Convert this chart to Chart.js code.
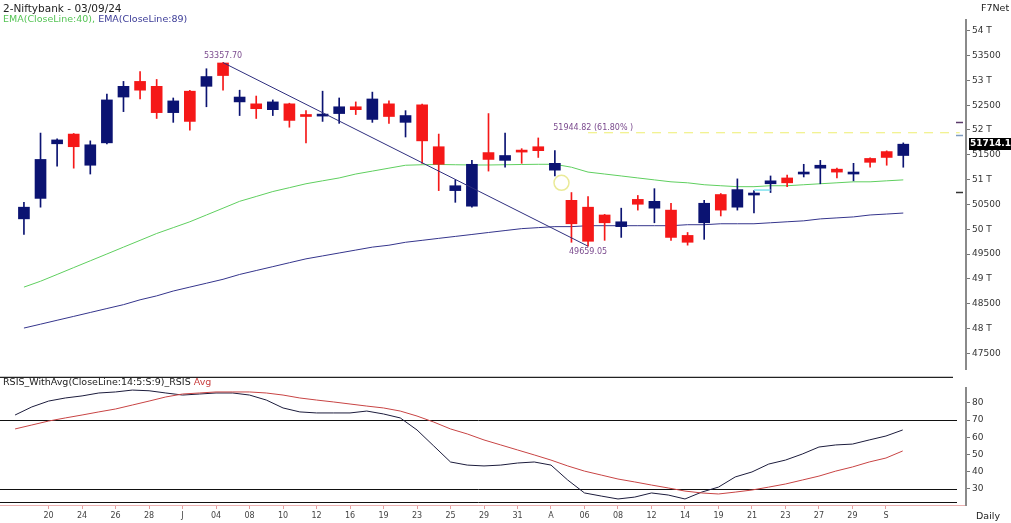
<!DOCTYPE html>
<html>
<head>
<meta charset="utf-8">
<script src="https://cdn.jsdelivr.net/npm/chart.js@4.4.1/dist/chart.umd.min.js"></script>
<style>
  html, body { margin: 0; padding: 0; background: #fff; }
  #wrap { position: relative; width: 1011px; height: 523px; overflow: hidden; font-family: "DejaVu Sans", sans-serif; }
  #main { position: absolute; left: 0; top: 0; }
  #rsi { position: absolute; left: 0; top: 378px; }
  .txt { position: absolute; white-space: nowrap; font-size: 9.5px; line-height: 12px; color: #222; }
</style>
</head>
<body>
<div id="wrap">
  <canvas id="main" width="1011" height="378"></canvas>
  <canvas id="rsi" width="1011" height="145"></canvas>
  <div class="txt" style="left:3px;top:2px;font-size:10.5px;">2-Niftybank - 03/09/24</div>
  <div class="txt" style="left:3px;top:13px;"><span style="color:#55c455">EMA(CloseLine:40),</span> <span style="color:#3a3a96">EMA(CloseLine:89)</span></div>
  <div class="txt" style="left:981px;top:2px;">F7Net</div>
  <div class="txt" style="left:3px;top:376px;">RSIS_WithAvg(CloseLine:14:5:S:9)_RSIS <span style="color:#c84040">Avg</span></div>
  <div class="txt" style="left:976px;top:510px;">Daily</div>
</div>
<script>
// daily candles, left to right
const dates = ["", "", "20", "", "24", "", "26", "", "28", "", "J", "", "04", "", "08", "", "10", "", "12", "", "16", "", "19", "", "23", "", "25", "", "29", "", "31", "", "A", "", "06", "", "08", "", "12", "", "14", "", "19", "", "21", "", "23", "", "27", "", "29", "", "S", ""];

const opens = [50210, 50622, 51722, 51918, 51290, 51741, 52664, 52979, 52880, 52350,
  52782, 52880, 53350, 52566, 52527, 52409, 52527, 52311, 52280, 52331,
  52468, 52213, 52527, 52154, 52507, 51663, 50779, 50465, 51545, 51388,
  51575, 51663, 51191, 50583, 50445, 50288, 50053, 50602, 50425, 50386,
  49876, 50131, 50700, 50445, 50690, 50917, 51034, 51113, 51231, 51211,
  51113, 51427, 51565, 51486];
const highs = [50543, 51938, 51820, 51930, 51781, 52723, 52979, 53175, 53018, 52645,
  52800, 53234, 53357.7, 52802, 52684, 52606, 52540, 52390, 52782, 52645,
  52566, 52763, 52586, 52390, 52520, 51918, 50995, 51388, 52331, 51938,
  51624, 51840, 51584, 50740, 50661, 50300, 50425, 50681, 50818, 50524,
  49935, 50583, 50720, 51015, 50779, 51074, 51093, 51309, 51388, 51231,
  51329, 51440, 51580, 51740];
const lows = [49895, 50445, 51270, 51231, 51113, 51720, 52370, 52625, 52232, 52154,
  51997, 52468, 52802, 52291, 52232, 52291, 52056, 51741, 52173, 52134,
  52311, 52154, 52134, 51859, 51329, 50779, 50543, 50445, 51172, 51250,
  51329, 51447, 51074, 49738, 49659.05, 49777, 49836, 50386, 50131, 49777,
  49680, 49797, 50268, 50386, 50327, 50740, 50858, 51054, 50917, 51034,
  50976, 51250, 51290, 51250];
const closes = [50445, 51407, 51800, 51663, 51702, 52606, 52880, 52802, 52350, 52586,
  52173, 53077, 53097, 52664, 52429, 52566, 52193, 52272, 52291, 52468,
  52409, 52625, 52272, 52291, 51781, 51309, 50877, 51309, 51407, 51486,
  51555, 51584, 51329, 50111, 49758, 50131, 50151, 50504, 50563, 49836,
  49738, 50524, 50386, 50799, 50700, 50976, 50936, 51133, 51290, 51152,
  51133, 51349, 51447, 51714.1];

const ema40 = [48835, 48953, 49090, 49228, 49365, 49502, 49640, 49777, 49915, 50033,
  50151, 50288, 50425, 50563, 50661, 50760, 50838, 50917, 50976, 51034,
  51113, 51172, 51231, 51290, 51300, 51305, 51300, 51295, 51295, 51300,
  51305, 51309, 51309, 51250, 51152, 51113, 51074, 51034, 50995, 50956,
  50936, 50897, 50877, 50858, 50858, 50877, 50877, 50897, 50917, 50936,
  50956, 50956, 50976, 50995];
const ema89 = [48010, 48088, 48167, 48245, 48324, 48403, 48481, 48579, 48658, 48756,
  48835, 48913, 48992, 49090, 49169, 49247, 49326, 49404, 49463, 49522,
  49581, 49640, 49679, 49738, 49777, 49817, 49856, 49895, 49935, 49974,
  50013, 50033, 50053, 50053, 50072, 50072, 50072, 50072, 50072, 50072,
  50092, 50092, 50111, 50111, 50111, 50131, 50151, 50170, 50209, 50229,
  50249, 50288, 50307, 50327];

const rsi = [72.9, 77.6, 81.0, 82.8, 84.0, 85.7, 86.3, 87.4, 87.0, 85.7,
  84.5, 85.1, 85.7, 85.7, 84.5, 81.6, 77.0, 74.7, 74.1, 74.1,
  74.1, 75.2, 73.5, 71.2, 64.2, 54.9, 45.6, 43.8, 43.3, 43.8,
  45.0, 45.6, 43.8, 35.1, 27.6, 25.8, 24.1, 25.2, 27.6, 26.4,
  24.1, 28.1, 31.0, 36.9, 39.8, 44.4, 46.7, 50.2, 54.3, 55.5,
  56.0, 58.4, 60.7, 64.2];
const rsiAvg = [64.8, 67.1, 69.4, 71.2, 72.9, 74.7, 76.4, 78.7, 81.0, 83.4,
  85.1, 85.7, 86.3, 86.3, 86.3, 85.7, 84.5, 82.8, 81.6, 80.5,
  79.3, 78.1, 77.0, 75.2, 72.3, 68.8, 64.8, 61.9, 58.4, 55.5,
  52.6, 49.7, 46.7, 43.3, 40.3, 38.0, 35.7, 34.0, 32.2, 30.5,
  28.7, 27.6, 27.0, 28.1, 29.3, 31.0, 32.8, 35.1, 37.4, 40.3,
  42.7, 45.6, 47.9, 52.0];

const priceTicks = [47500, 48000, 48500, 49000, 49500, 50000, 50500, 51000, 51500, 52000, 52500, 53000, 53500, 54000];
const rsiTicks = [30, 40, 50, 60, 70, 80];

// swing points and fib level shown on the chart
const swingHighIdx = 12, swingHigh = 53357.70;
const swingLowIdx = 34, swingLow = 49659.05;
const fibLevel = 51944.82;
const gapLevel = 50790;
const rsiFloor = 22.3;

const X_MIN = -0.9, X_MAX = 56.78;
const UP = "#0b1372", DOWN = "#f51818";

const idx = closes.map((c, i) => i);
const candleColors = idx.map((i) => (closes[i] >= opens[i] ? UP : DOWN));
const points = (arr) => arr.map((v, i) => ({ x: i, y: v }));

const xScale = function (display) {
  return {
    type: "linear",
    min: X_MIN,
    max: X_MAX,
    offset: false,
    display: display,
    afterBuildTicks: (scale) => {
      scale.ticks = idx.filter((i) => dates[i] !== "").map((i) => ({ value: i }));
    },
    afterFit: (scale) => {
      if (display) scale.height = 18;
    },
    grid: { drawOnChartArea: false, drawTicks: true, tickLength: 4, color: "#e6a0a0" },
    border: { display: true, color: "#ebb0b0", width: 1 },
    ticks: {
      autoSkip: false,
      maxRotation: 0,
      padding: 2,
      color: "#444",
      font: { family: "DejaVu Sans", size: 8 },
      callback: (v) => dates[v],
    },
  };
};

const yScale = function (min, max, tickValues, fmt) {
  return {
    type: "linear",
    position: "right",
    min: min,
    max: max,
    afterBuildTicks: (scale) => {
      scale.ticks = tickValues.map((v) => ({ value: v }));
    },
    afterFit: (scale) => {
      scale.width = 45;
    },
    grid: { drawOnChartArea: false, drawTicks: true, tickLength: 4, color: "#777" },
    border: { display: true, color: "#8a8a8a", width: 2 },
    ticks: {
      padding: 2,
      color: "#333",
      font: { family: "DejaVu Sans", size: 9 },
      callback: fmt,
    },
  };
};

const mainDecor = {
  id: "mainDecor",
  afterDatasetsDraw(chart) {
    const { ctx } = chart;
    const x = chart.scales.x, y = chart.scales.y;
    ctx.save();
    ctx.font = "8px 'DejaVu Sans'";
    ctx.fillStyle = "#7b4b8e";
    ctx.textBaseline = "middle";
    ctx.textAlign = "center";
    ctx.fillText(swingHigh.toFixed(2), x.getPixelForValue(swingHighIdx), y.getPixelForValue(swingHigh) - 7);
    ctx.fillText(swingLow.toFixed(2), x.getPixelForValue(swingLowIdx), y.getPixelForValue(swingLow) + 6);
    ctx.textAlign = "left";
    ctx.fillText(fibLevel.toFixed(2) + " (61.80% )", x.getPixelForValue(31.9), y.getPixelForValue(fibLevel) - 5);

    // small level markers next to the axis
    const marks = [[52154, "#5a3a6a"], [51899, "#7f9cc0"], [50760, "#333"]];
    marks.forEach(([v, c]) => {
      ctx.strokeStyle = c;
      ctx.lineWidth = 1.5;
      ctx.beginPath();
      ctx.moveTo(956, Math.round(y.getPixelForValue(v)) + 0.5);
      ctx.lineTo(963, Math.round(y.getPixelForValue(v)) + 0.5);
      ctx.stroke();
    });

    // last price tag
    const last = closes[closes.length - 1];
    const py = Math.round(y.getPixelForValue(last));
    ctx.fillStyle = "#000";
    ctx.fillRect(969, py - 6, 42, 12);
    ctx.fillStyle = "#fff";
    ctx.font = "bold 9px 'DejaVu Sans'";
    ctx.fillText(last.toFixed(1), 970, py);

    // panel separator
    ctx.strokeStyle = "#222";
    ctx.lineWidth = 1.5;
    ctx.beginPath();
    ctx.moveTo(0, 377.5);
    ctx.lineTo(953, 377.5);
    ctx.stroke();
    ctx.restore();
  },
};

const rsiDecor = {
  id: "rsiDecor",
  beforeDatasetsDraw(chart) {
    const { ctx } = chart;
    const y = chart.scales.y;
    ctx.save();
    ctx.strokeStyle = "#111";
    ctx.lineWidth = 1;
    [70, 30, rsiFloor].forEach((v) => {
      const py = Math.round(y.getPixelForValue(v)) + 0.5;
      ctx.beginPath();
      ctx.moveTo(0, py);
      ctx.lineTo(957, py);
      ctx.stroke();
    });
    ctx.restore();
  },
};

const init = function () {
  new Chart(document.getElementById("main"), {
    type: "bar",
    data: {
      datasets: [
        {
          type: "line",
          data: points(ema40),
          borderColor: "#5fcf5f",
          borderWidth: 1,
          pointRadius: 0,
          order: 6,
        },
        {
          type: "line",
          data: points(ema89),
          borderColor: "#35358c",
          borderWidth: 1,
          pointRadius: 0,
          order: 6,
        },
        {
          data: idx.map((i) => ({ x: i, y: [lows[i], highs[i]] })),
          backgroundColor: candleColors,
          barThickness: 1,
          grouped: false,
          order: 4,
        },
        {
          data: idx.map((i) => ({ x: i, y: [opens[i], closes[i]] })),
          backgroundColor: candleColors,
          barThickness: 11,
          minBarLength: 2,
          grouped: false,
          order: 3,
        },
        {
          type: "line",
          data: [{ x: swingHighIdx, y: swingHigh }, { x: swingLowIdx, y: swingLow }],
          borderColor: "#2e2e7e",
          borderWidth: 1,
          pointRadius: 0,
          order: 1,
        },
        {
          type: "line",
          data: [{ x: swingLowIdx, y: fibLevel }, { x: 56.4, y: fibLevel }],
          borderColor: "#eeee70",
          borderWidth: 1.2,
          borderDash: [9, 7],
          pointRadius: 0,
          order: 1,
        },
        {
          type: "line",
          data: [{ x: 44, y: gapLevel }, { x: 45, y: gapLevel }],
          borderColor: "#7fe3ee",
          borderWidth: 1.5,
          pointRadius: 0,
          order: 1,
        },
        {
          type: "line",
          data: [{ x: 32.4, y: 50936 }],
          showLine: false,
          pointRadius: 7.5,
          pointBackgroundColor: "rgba(0,0,0,0)",
          pointBorderColor: "#eaea98",
          pointBorderWidth: 1.5,
          order: 1,
        },
      ],
    },
    options: {
      responsive: false,
      animation: false,
      layout: { padding: { top: 20, left: 0, right: 0, bottom: 0 } },
      plugins: { legend: { display: false }, tooltip: { enabled: false } },
      scales: {
        x: xScale(false),
        y: yScale(47185, 54216, priceTicks, (v) => (v % 1000 === 0 ? v / 1000 + " T" : String(v))),
      },
    },
    plugins: [mainDecor],
  });

  new Chart(document.getElementById("rsi"), {
    type: "line",
    data: {
      datasets: [
        {
          data: points(rsiAvg),
          borderColor: "#c84444",
          borderWidth: 1,
          pointRadius: 0,
        },
        {
          data: points(rsi),
          borderColor: "#1c1c3c",
          borderWidth: 1,
          pointRadius: 0,
        },
      ],
    },
    options: {
      responsive: false,
      animation: false,
      layout: { padding: { top: 10, left: 0, right: 0, bottom: 0 } },
      plugins: { legend: { display: false }, tooltip: { enabled: false } },
      scales: {
        x: xScale(true),
        y: yScale(20.6, 88.6, rsiTicks, (v) => String(v)),
      },
    },
    plugins: [rsiDecor],
  });
};

window.onload = () => {
  init();
};
</script>
</body>
</html>
